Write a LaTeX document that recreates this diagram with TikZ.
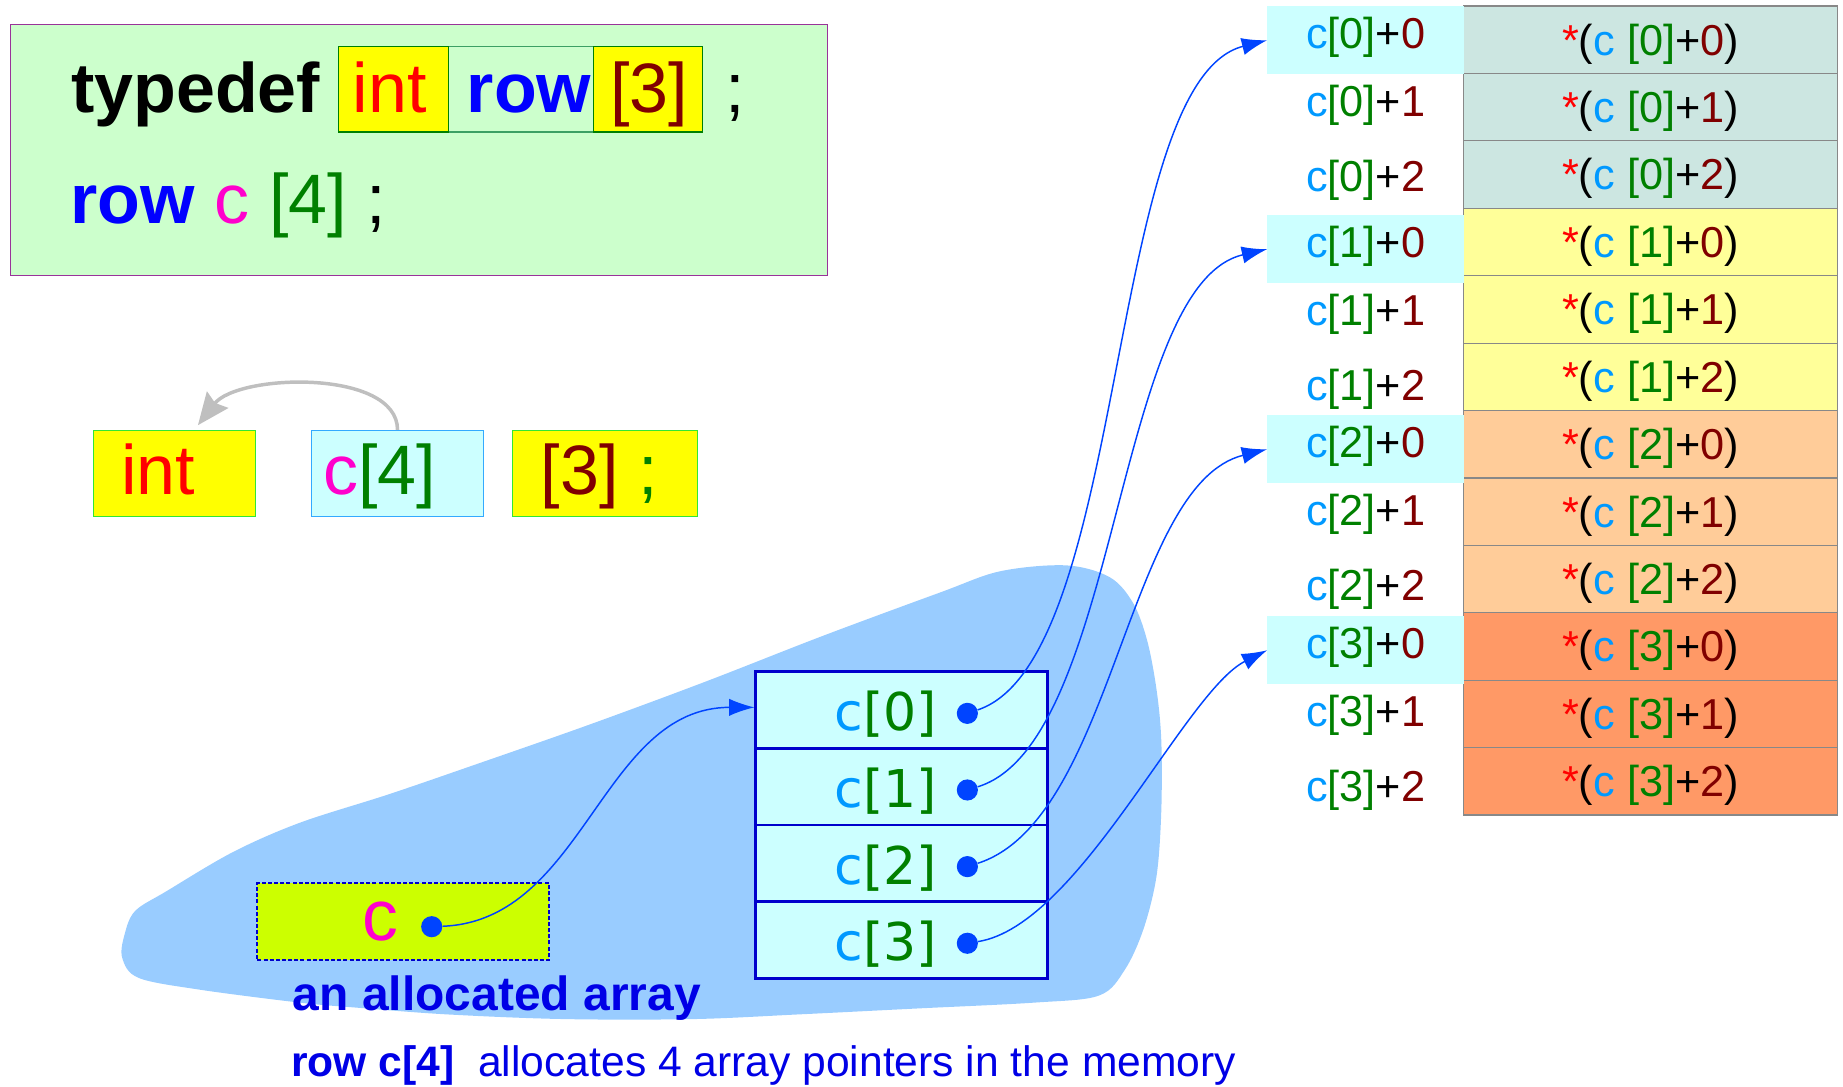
\documentclass[tikz,border=0pt]{standalone}
\usepackage{fontspec}
\setmainfont{Liberation Sans}
\newfontfamily\arrfont{DejaVu Sans}
\usepackage{xcolor}
\usetikzlibrary{arrows.meta,calc}

\definecolor{codebg}{RGB}{204,255,204}
\definecolor{frame}{RGB}{153,51,153}
\definecolor{hlyellow}{RGB}{255,255,0}
\definecolor{hlgreen}{RGB}{51,230,51}
\definecolor{rowline}{RGB}{60,160,100}
\definecolor{cellcyan}{RGB}{204,255,255}
\definecolor{cyanline}{RGB}{51,170,255}
\definecolor{skyc}{RGB}{0,153,255}
\definecolor{idxgreen}{RGB}{0,128,0}
\definecolor{offred}{RGB}{128,0,0}
\definecolor{varmag}{RGB}{255,0,204}
\definecolor{ptrblue}{RGB}{0,68,255}
\definecolor{memblue}{RGB}{153,204,255}
\definecolor{boxblue}{RGB}{0,0,204}
\definecolor{cvarbg}{RGB}{204,255,0}
\definecolor{cellline}{RGB}{136,136,136}
\definecolor{notice}{RGB}{0,0,230}
\definecolor{rowA}{RGB}{204,230,225}
\definecolor{rowB}{RGB}{255,255,153}
\definecolor{rowC}{RGB}{255,204,153}
\definecolor{rowD}{RGB}{255,153,102}

\newcommand{\codesize}{\fontsize{52.4}{60}\selectfont}
\newcommand{\tabsize}{\fontsize{32.4}{38}\selectfont}
\newcommand{\arrsize}{\fontsize{39}{45}\selectfont}
\newcommand{\headsize}{\fontsize{35.9}{42}\selectfont}
\newcommand{\notesize}{\fontsize{31.9}{38}\selectfont}
\newcommand{\ptrlabel}[2]{\textcolor{skyc}{c}\textcolor{idxgreen}{[#1]}+\textcolor{offred}{#2}}
\newcommand{\derefcell}[2]{\textcolor{red}{*}(\textcolor{skyc}{c} \textcolor{idxgreen}{[#1]}+\textcolor{offred}{#2})}

\begin{document}
\begin{tikzpicture}[x=0.88pt,y=0.88pt,yscale=-1,
  codetxt/.style={anchor=base west,inner sep=0pt,font=\codesize},
  hlbox/.style={draw=idxgreen,line width=0.8pt,minimum height=73*0.88pt,inner sep=0pt},
  tokbox/.style={line width=0.8pt,minimum height=73*0.88pt,inner sep=0pt},
  labtxt/.style={inner sep=0pt,font=\tabsize},
  tabcell/.style={draw=cellline,line width=0.9pt,minimum width=318*0.88pt,minimum height=57.36*0.88pt,inner sep=0pt,font=\tabsize,text height=29.8pt,text depth=6.8pt},
  hilite/.style={fill=cellcyan,minimum width=167*0.88pt,minimum height=58.2*0.88pt,inner sep=0pt},
  arrcell/.style={draw=boxblue,line width=2pt,fill=cellcyan,minimum width=248*0.88pt,minimum height=65.2*0.88pt,inner sep=0pt},
  arrtxt/.style={inner sep=0pt,font=\arrfont\arrsize},
  ptrdot/.style={circle,fill=ptrblue,minimum size=18*0.88pt,inner sep=0pt},
  ptr/.style={ptrblue,line width=1.1pt,-{Latex[length=19pt,width=13pt]}},
  backarc/.style={draw=black!25,line width=2.6pt,-{Stealth[length=24pt,width=20pt,inset=3pt]}}]
\useasboundingbox (0,0) rectangle (1568,924);

%Shape: Memory area
\fill[memblue] plot[smooth cycle,tension=0.55] coordinates {(115,775) (142,758) (198,725) (255,700) (330,676) (400,652) (500,617) (600,580) (700,541) (800,504) (851,486) (907,481) (944,491) (964,513) (976,545) (984,587) (988,630) (988,690) (984,745) (973,790) (957,825) (935,847) (880,853) (780,858) (680,863) (590,867) (480,867) (380,863) (300,857) (255,853) (170,842) (118,832) (104,815) (106,795)};

%Shape: Code box
\node[draw=frame,fill=codebg,line width=0.8pt,minimum width=695*0.88pt,minimum height=213*0.88pt,inner sep=0pt] (codebox) at (356.5,127.5) {};
\node[tokbox,draw=rowline,minimum width=124*0.88pt] (hrow) at (443,75.8) {};
\node[hlbox,fill=hlyellow,minimum width=93*0.88pt] (hint) at (334.7,75.8) {};
\node[hlbox,fill=hlyellow,minimum width=93*0.88pt] (hidx) at (551.5,75.8) {};

% Text Node
\node[codetxt] (tdef) at (60.3,95.5) {\textbf{typedef}};
\node[codetxt,text=red] (tint) at (300,95.5) {int};
\node[codetxt,text=blue] (trow) at (397,95.5) {\textbf{row}};
\node[codetxt,text=offred] (tidx) at (519,95.5) {[3]};
\node[codetxt] (tsemi) at (617,95.5) {;};
\node[codetxt] (decl) at (59.8,190.4) {\textcolor{blue}{\textbf{row}} \textcolor{varmag}{c} \textcolor{idxgreen}{[4]} ;};

%Shape: Split declaration
\node[tokbox,draw=hlgreen,fill=hlyellow,minimum width=138*0.88pt] (intb) at (148.4,402.7) {};
\node[tokbox,draw=cyanline,fill=cellcyan,minimum width=146*0.88pt] (c4b) at (338.2,402.7) {};
\node[tokbox,draw=hlgreen,fill=hlyellow,minimum width=157*0.88pt] (idxb) at (514.6,402.7) {};
\node[codetxt,text=red] (sint) at (103,421) {int};
\node[codetxt] (sc4) at (275,421) {\textcolor{varmag}{c}\textcolor{idxgreen}{[4]}};
\node[codetxt] (sidx) at (460,421) {\textcolor{offred}{[3]} \textcolor{idxgreen}{;}};

%Curve Lines
\draw[backarc] (c4b.north) .. controls +(0,-52) and +(34,-44) .. ($(intb.north)+(20,-4)$);

%Shape: Pointer table
\foreach \g/\col/\lt in {0/rowA/5.1,1/rowB/182.9,2/rowC/353.1,3/rowD/524.1}{
  \foreach \j in {0,1,2}{
    \pgfmathsetmacro{\cy}{5.1+57.36*(3*\g+\j)+28.68}
    \node[tabcell,fill=\col] (d\g\j) at (1404.2,\cy) {\derefcell{\g}{\j}};
  }
  \node[hilite] (l\g) at (1161.8,\lt+29.1) {};
  \node[labtxt] (t\g0) at (1161.8,\lt+26.5) {\ptrlabel{\g}{0}};
  \node[labtxt] (t\g1) at (1161.8,\lt+84.3) {\ptrlabel{\g}{1}};
  \node[labtxt] (t\g2) at (1161.8,\lt+148.5) {\ptrlabel{\g}{2}};
}

%Shape: Array of pointers
\foreach \i in {0,...,3}{
  \pgfmathsetmacro{\ay}{604.1+65.2*\i}
  \node[arrcell] (a\i) at (767,\ay) {};
  \node[arrtxt] (n\i) at (753.7,\ay+3.7) {\textcolor{skyc}{c}\textcolor{idxgreen}{[\i]}};
  \node[ptrdot] (p\i) at (823,\ay+2.8) {};
}

%Shape: Variable c
\node[draw=boxblue,line width=1.4pt,dash pattern=on 3pt off 1.6pt,fill=cvarbg,minimum width=248*0.88pt,minimum height=65.3*0.88pt,inner sep=0pt] (cvar) at (343,784.2) {};
\node[inner sep=0pt,font=\fontsize{53.7}{60}\selectfont,text=varmag] (cname) at (323.3,783.9) {c};
\node[ptrdot] (pc) at (367.3,788.4) {};

%Curve Lines
\draw[ptr] (pc) .. controls +(130,-5) and +(-130,0) .. ($(a0.west)+(0,-2.3)$);
\draw[ptr] (p0) .. controls +(138,-46) and +(-138,35) .. (l0.west);
\draw[ptr] (p1) .. controls +(130,-40) and +(-130,30) .. (l1.west);
\draw[ptr] (p2) .. controls +(125,-40) and +(-120,30) .. (l2.west);
\draw[ptr] (p3) .. controls +(95,-15) and +(-70,35) .. (l3.west);

% Text Node
\node[anchor=base west,inner sep=0pt,font=\headsize,text=notice] (cap1) at (249,859.3) {\textbf{an allocated array}};
\node[anchor=base west,inner sep=0pt,font=\notesize,text=notice] (cap2) at (247.5,916) {\textbf{row c[4]}\ \ allocates 4 array pointers in the memory};
\end{tikzpicture}
\end{document}
